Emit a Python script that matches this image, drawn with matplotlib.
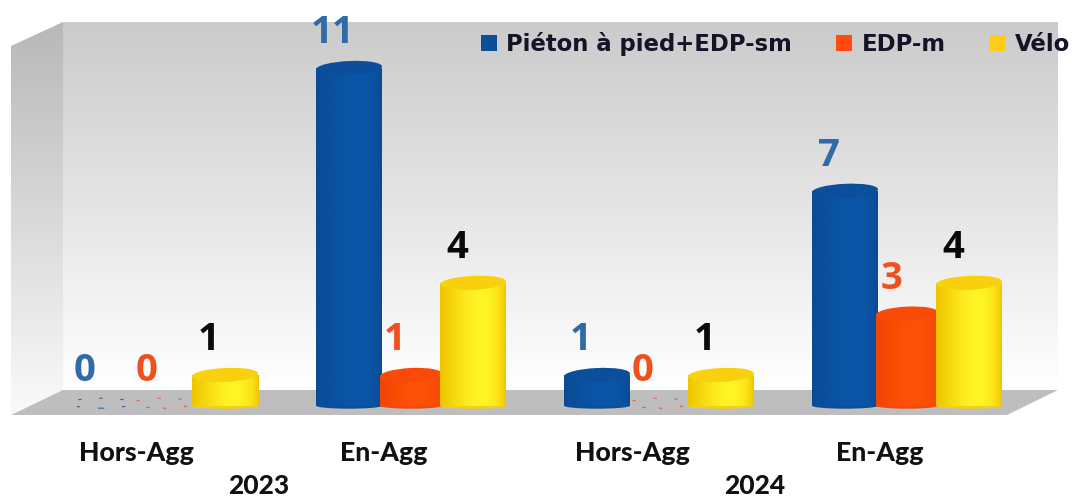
import numpy as np
import matplotlib
matplotlib.use("Agg")
import matplotlib.pyplot as plt
from matplotlib.colors import to_rgb
from matplotlib.patches import Ellipse, Patch, Polygon
from matplotlib.transforms import Affine2D

# ---- data ----
groups = ["Hors-Agg", "En-Agg", "Hors-Agg", "En-Agg"]
years = ["2023", "2024"]
series = ["Piéton à pied+EDP-sm", "EDP-m", "Vélo"]
pieton = [0, 11, 1, 7]
edp_m = [0, 1, 0, 3]
velo = [1, 4, 1, 4]

# ---- styles ----
W, H = 1075, 500
BASE_PX, UNIT_PX, GROUP_PX, BAR_PX, X0_PX = 405.7, 30.7, 248.0, 62.0, 163.0
fills = [
    ("#0A4B95", "#0A56A8", "#0A4E9C", "#0B4F99"),
    ("#F04506", "#FF5205", "#FA4A08", "#F4480C"),
    ("#F0C400", "#FFF426", "#F8D00C", "#F5CF10"),
]
label_colors = ["#2F6BA8", "#F0501E", "#0A0A0A"]
legend_colors = ["#0B4F99", "#FF4A12", "#FFCC1A"]
widths_px = [66, 62, 66]
plt.rcParams["font.family"] = ["DejaVu Sans"]

fig = plt.figure(figsize=(W / 100, H / 100), dpi=100, facecolor="white")

# ---- 3D box behind the plot ----
bg = fig.add_axes([0, 0, 1, 1], zorder=0)
bg.set_xlim(0, W)
bg.set_ylim(H, 0)
bg.axis("off")


def wall(pts, top, bottom, y0, y1):
    poly = Polygon(pts, closed=True, fc="none", ec="none")
    bg.add_patch(poly)
    c = np.linspace(to_rgb(top), to_rgb(bottom), 128)[:, None, :]
    im = bg.imshow(c, extent=(0, W, y1, y0), aspect="auto", interpolation="bilinear")
    im.set_clip_path(poly)


wall([(63, 22), (1058, 22), (1058, 390), (63, 390)], "#CBCBCB", "#FFFFFF", 22, 390)
wall([(11, 46), (63, 22), (63, 390), (11, 414)], "#B8B8B8", "#FAFAFA", 22, 414)
bg.add_patch(Polygon([(63, 390), (1058, 390), (1007, 415), (11, 415)], fc="#BEBEBE", ec="none"))
bg.set_xlim(0, W)
bg.set_ylim(H, 0)

# ---- main axes: baseline at BASE_PX ----
ax = fig.add_axes([0, (H - BASE_PX) / H, 1, BASE_PX / H], zorder=1)
ax.patch.set_alpha(0)
ax.set_xlim(-X0_PX / GROUP_PX, (W - X0_PX) / GROUP_PX)
ax.set_ylim(0, BASE_PX / UNIT_PX)
for s in ax.spines.values():
    s.set_visible(False)
ax.set_yticks([])
idx = np.arange(len(groups))
ax.set_xticks(idx - 27 / GROUP_PX, groups, fontsize=19.2, fontweight=900, family="Lato", color="#111111")
ax.tick_params(axis="x", length=0, pad=25.3)

px_x = 1 / GROUP_PX
px_y = 1 / UNIT_PX


def shade(patch, xc, w, y0, y1, col, z):
    edge, mid = col[0], col[1]
    t = np.linspace(0, 1, 64)
    prof = np.clip(np.sin(np.pi * t ** 1.5) ** 0.7, 0, 1)[None, :, None]
    arr = np.array(to_rgb(edge))[None, None, :] * (1 - prof) + np.array(to_rgb(mid))[None, None, :] * prof
    im = ax.imshow(arr, extent=(xc - w / 2, xc + w / 2, y0, y1), aspect="auto",
                   interpolation="bilinear", zorder=z, origin="lower")
    im.set_clip_path(patch)


def cylinder(xc, v, w, col, z):
    if v == 0:
        ax.add_patch(Ellipse((xc, 2.5 * px_y), w * 0.95, 10 * px_y, fc="none", ec=col[3], lw=0.8,
                             ls=(0, (3, 16)), zorder=z, clip_on=False, alpha=0.8))
        return
    base = Ellipse((xc, 0), w, 6 * px_y, fc=col[3], ec="none", zorder=z, clip_on=False)
    ax.add_patch(base)
    body = ax.bar(xc, v, w, color=col[3], zorder=z + 0.1, clip_on=False)[0]
    shade(body, xc, w, 0, v, col, z + 0.2)
    k = 0.045 * px_y / px_x
    tilt = Affine2D.from_values(1, k, 0, 1, 0, -k * xc) + ax.transData
    top = Ellipse((xc, v), w, 14 * px_y, fc=col[2], ec="none", zorder=z + 0.3, clip_on=False,
                  transform=tilt)
    ax.add_patch(top)


for g in idx:
    for s, values in enumerate([pieton, edp_m, velo]):
        xc = g + (s - 1) * BAR_PX * px_x
        v = values[g]
        cylinder(xc, v, widths_px[s] * px_x, fills[s], 2 + s + g * 5)
        ax.annotate(str(v), (xc, v), xytext=(-16 * 0.72, 35 * 0.72), textcoords="offset points",
                    ha="center", va="center", fontsize=27.5, family="Open Sans", fontweight="bold",
                    color=label_colors[s], zorder=40, annotation_clip=False)

ax.set_xlim(-X0_PX / GROUP_PX, (W - X0_PX) / GROUP_PX)
ax.set_ylim(0, BASE_PX / UNIT_PX)

# year labels under each pair of groups
for k, y in enumerate(years):
    xm = (idx[2 * k] + idx[2 * k + 1]) / 2 - 28 / GROUP_PX
    ax.annotate(y, (xm, 0), xytext=(0, -(486 - BASE_PX) * 0.72), textcoords="offset points",
                ha="center", va="center", fontsize=19, family="Lato", fontweight=900,
                color="#111111", annotation_clip=False)

# legend
handles = [Patch(fc=c, ec="none", label=n) for c, n in zip(legend_colors, series)]
leg = ax.legend(handles=handles, ncol=3, frameon=False, loc="center left",
                bbox_to_anchor=(481 / W, (BASE_PX - 44) / BASE_PX), borderpad=0, borderaxespad=0,
                handlelength=0.7, handleheight=0.7, handletextpad=0.4, columnspacing=1.96,
                prop={"family": "DejaVu Sans", "weight": "bold", "size": 16.4})
for t in leg.get_texts():
    t.set_color("#141428")
leg.set_zorder(50)

fig.savefig("out.png", dpi=100, facecolor="white")
